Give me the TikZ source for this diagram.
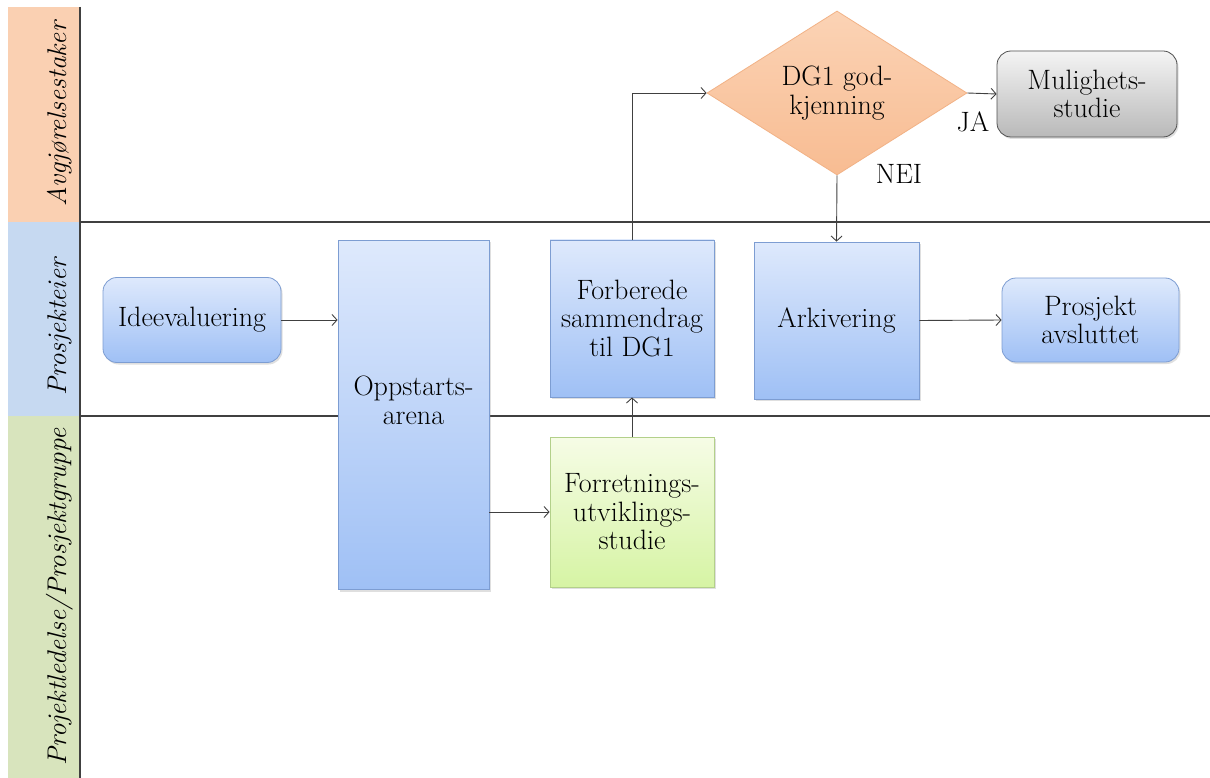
\documentclass[tikz,border=0pt]{standalone}
\usepackage{fontspec}
\usetikzlibrary{arrows.meta,shapes.geometric,shadows}

\definecolor{laneorange}{HTML}{FAD0B2}
\definecolor{laneblue}{HTML}{C6D9F1}
\definecolor{lanegreen}{HTML}{D8E4BD}
\definecolor{rule}{HTML}{404040}
\definecolor{bluetop}{HTML}{DEE9FC}
\definecolor{bluebot}{HTML}{9FC0F5}
\definecolor{blueline}{HTML}{7D9DD2}
\definecolor{greentop}{HTML}{F6FCE6}
\definecolor{greenbot}{HTML}{D6F4A4}
\definecolor{greenline}{HTML}{B3D08A}
\definecolor{orangetop}{HTML}{FBD3B5}
\definecolor{orangebot}{HTML}{F8BC92}
\definecolor{orangeline}{HTML}{F2B286}
\definecolor{graytop}{HTML}{F4F4F4}
\definecolor{graybot}{HTML}{B9B9B9}
\definecolor{grayline}{HTML}{505050}

\tikzset{
  basefont/.style={font=\fontsize{28}{28.5}\selectfont},
  shade/.style={drop shadow={shadow xshift=1.5pt,shadow yshift=-2pt,opacity=0.25}},
  bluebox/.style={basefont,shade,draw=blueline,line width=0.8pt,top color=bluetop,bottom color=bluebot,
    align=center,inner sep=2pt},
  roundbox/.style={bluebox,rounded corners=14pt},
  greenbox/.style={basefont,shade,draw=greenline,line width=0.8pt,top color=greentop,bottom color=greenbot,
    align=center,inner sep=2pt},
  graybox/.style={basefont,shade,draw=grayline,line width=0.8pt,top color=graytop,bottom color=graybot,
    align=center,inner sep=2pt,rounded corners=14pt},
  decision/.style={basefont,diamond,draw=orangeline,line width=0.8pt,top color=orangetop,bottom color=orangebot,
    align=center,inner sep=0pt,aspect=1.585,minimum width=260pt,minimum height=164pt},
  flow/.style={draw=rule,line width=0.9pt,-{Straight Barb[length=5pt,width=11pt]}},
  lanerule/.style={draw=rule,line width=1.2pt},
  lanelabel/.style={rotate=90,font=\fontsize{27}{28}\selectfont\itshape,inner sep=0pt},
  tag/.style={basefont,inner sep=0pt}
}

\begin{document}
\begin{tikzpicture}[x=1pt,y=-1pt]
\useasboundingbox (0,0) rectangle (1210,778);
\fill[white] (0,0) rectangle (1210,778);

% swimlane header strips
\fill[laneorange] (8,7) rectangle (80,222);
\fill[laneblue] (8,222) rectangle (80,416);
\fill[lanegreen] (8,416) rectangle (80,778);
\draw[lanerule] (80,7) -- (80,778);
\draw[lanerule] (80,222) -- (1210,222);
\draw[lanerule] (80,416) -- (1210,416);

\node[lanelabel] (lane1) at (60,114) {Avgjørelsestaker};
\node[lanelabel] (lane2) at (60,327) {Prosjekteier};
\node[lanelabel] (lane3) at (60,597) {Projektledelse/Prosjektgruppe};

% process steps
\node[roundbox,minimum width=178pt,minimum height=85pt] (ide) at (192,320) {Ideevaluering};
\node[bluebox,minimum width=151pt,minimum height=349pt,text depth=30pt] (opp) at (413.5,415) {Oppstarts-\\arena};
\node[bluebox,minimum width=164pt,minimum height=157pt] (forb) at (632,318.5) {Forberede\\sammendrag\\til DG1};
\node[bluebox,minimum width=165pt,minimum height=157pt] (ark) at (836.5,320.5) {Arkivering};
\node[roundbox,minimum width=177pt,minimum height=84pt] (end) at (1090.5,320) {Prosjekt\\avsluttet};
\node[greenbox,minimum width=164pt,minimum height=150pt] (forr) at (632,512) {Forretnings-\\utviklings-\\studie};
\node[decision] (dg) at (837,93) {DG1 god-\\kjenning};
\node[graybox,minimum width=180pt,minimum height=86pt] (mul) at (1087,94) {Mulighets-\\studie};

% connectors
\draw[flow] (ide.east) -- (ide.east -| opp.west);
\draw[flow] (opp.east |- forr.west) -- (forr.west);
\draw[flow] (forr.north) -- (forb.south);
\draw[flow] (forb.north) |- (dg.west);
\draw[flow] (dg.east) -- (mul.west);
\draw[flow] (dg.south) -- (ark.north);
\draw[flow] (ark.east) -- (end.west);

% decision outcomes
\node[tag] (ja) at (973,122) {JA};
\node[tag] (nei) at (899,174) {NEI};
\end{tikzpicture}
\end{document}
